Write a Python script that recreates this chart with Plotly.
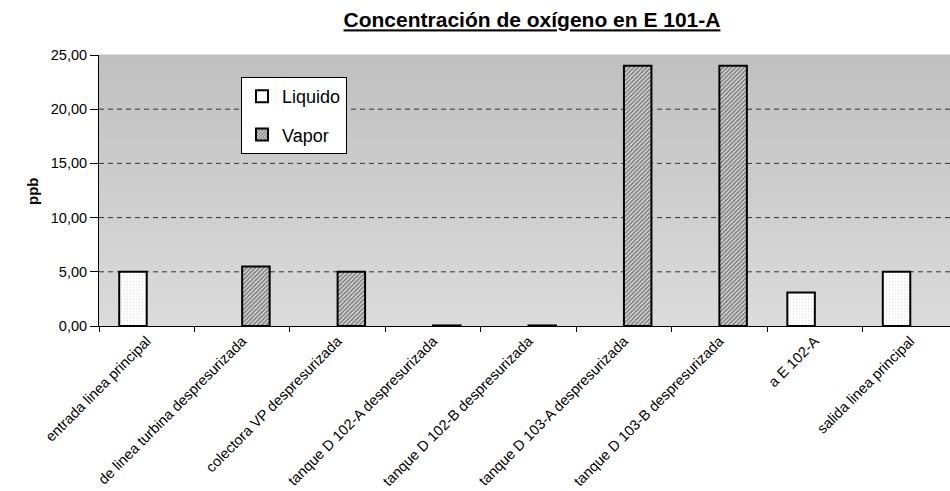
import plotly.graph_objects as go

# Sampling points along the E 101-A circuit
categories = [
    "entrada linea principal",
    "de linea turbina despresurizada",
    "colectora VP despresurizada",
    "tanque D 102-A despresurizada",
    "tanque D 102-B despresurizada",
    "tanque D 103-A despresurizada",
    "tanque D 103-B despresurizada",
    "a E 102-A",
    "salida linea principal",
]

# Oxygen concentration (ppb) per phase
liquido = [5.0, None, None, None, None, None, None, 3.1, 5.0]
vapor = [None, 5.5, 5.0, 0.05, 0.05, 24.0, 24.0, None, None]

y_ticks = [0, 5, 10, 15, 20, 25]
grid_values = [5, 10, 15, 20]

FONT = "Liberation Sans, Arial, sans-serif"

fig = go.Figure()

fig.add_trace(go.Bar(
    name="Liquido",
    x=categories,
    y=liquido,
    legendgroup="liq",
    marker=dict(
        color="white",
        line=dict(color="black", width=2),
        pattern=dict(shape=".", fgcolor="#c8c8c8", bgcolor="white",
                     size=3, solidity=0.15),
    ),
))
fig.add_trace(go.Bar(
    name="Vapor",
    x=categories,
    y=vapor,
    legendgroup="vap",
    marker=dict(
        color="white",
        line=dict(color="black", width=2),
        pattern=dict(shape="/", fgcolor="#1a1a1a", bgcolor="#eeeeee",
                     size=3, solidity=0.65),
    ),
))

# Vertical grey gradient behind the plot area
shapes = []
n_bands = 60
top_rgb, bot_rgb = (192, 192, 192), (219, 219, 219)
for i in range(n_bands):
    t = i / (n_bands - 1)
    c = tuple(round(bot_rgb[k] + (top_rgb[k] - bot_rgb[k]) * t) for k in range(3))
    shapes.append(dict(
        type="rect", xref="x domain", yref="y domain",
        x0=0, x1=1, y0=i / n_bands, y1=(i + 1) / n_bands + 0.002,
        fillcolor="rgb(%d,%d,%d)" % c, line=dict(width=0), layer="below",
    ))

# Dashed horizontal gridlines
for g in grid_values:
    shapes.append(dict(
        type="line", xref="x domain", yref="y",
        x0=0, x1=1, y0=g, y1=g,
        line=dict(color="#333333", width=1, dash="5px,4px"), layer="below",
    ))

n_cat = len(categories)
fig.update_layout(
    width=950,
    height=491,
    margin=dict(l=99, r=0, t=55, b=165),
    paper_bgcolor="white",
    plot_bgcolor="#d0d0d0",
    separators=",.",
    font=dict(family=FONT, size=14, color="black"),
    barmode="group",
    bargap=0.424,
    bargroupgap=0,
    shapes=shapes,
    title=dict(
        text="<b>Concentración de oxígeno en E 101-A</b>",
        font=dict(family=FONT, size=21, color="black", lineposition="under"),
        x=532 / 950, xref="container", xanchor="center",
        y=1 - 20 / 491, yref="container", yanchor="middle",
    ),
    legend=dict(
        x=(241 - 99) / 851, y=(326 - 77) / 271,
        xanchor="left", yanchor="top",
        bgcolor="white", bordercolor="black", borderwidth=1,
        font=dict(family=FONT, size=18, color="black"),
        traceorder="grouped", tracegroupgap=12,
        itemwidth=30,
    ),
    xaxis=dict(
        type="category",
        range=[-0.5, n_cat - 0.5 - 8 / 95.5],
        showline=True, linecolor="black", linewidth=1,
        ticks="outside", ticklen=5, tickcolor="black", tickwidth=1,
        tickson="boundaries",
        tickangle=-45,
        tickfont=dict(family=FONT, size=14.5, color="black"),
        showgrid=False,
        fixedrange=True,
    ),
    yaxis=dict(
        range=[0, 25],
        tickvals=y_ticks,
        tickformat=".2f",
        showline=True, linecolor="black", linewidth=1,
        ticks="outside", ticklen=8, tickcolor="black", tickwidth=1,
        tickfont=dict(family=FONT, size=14.5, color="black"),
        showgrid=False, zeroline=False,
        fixedrange=True,
    ),
    annotations=[dict(
        text="<b>ppb</b>", textangle=-90,
        xref="paper", yref="paper",
        x=-(99 - 32) / 851, y=(326 - 191) / 271,
        xanchor="center", yanchor="middle", showarrow=False,
        font=dict(family=FONT, size=15, color="black"),
    )],
)

fig.write_html("out.html")
